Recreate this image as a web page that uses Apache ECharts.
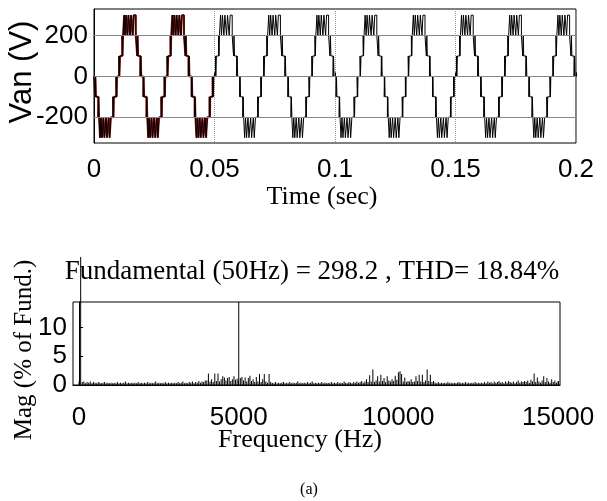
<!DOCTYPE html>
<html><head><meta charset="utf-8">
<script src="https://cdn.jsdelivr.net/npm/echarts@6/dist/echarts.min.js"></script>
<style>html,body{margin:0;padding:0;background:#fff}#c{width:607px;height:501px}</style>
</head><body><div id="c"></div><script>
// ---------- time-domain waveform (7-level inverter) ----------
const cycleStartsSec = [0, 0.02, 0.04, 0.06, 0.08, 0.10, 0.12, 0.14, 0.16, 0.18];
const negHalfEdgeMs = [0, 0.45, 0.6, 0.8, 1.75, 1.9, 2.1, 2.5, 2.9, 3.3, 3.9, 4.3, 5.0, 5.4, 6.1, 6.5, 7.0, 7.9, 8.1, 8.25, 9.2, 9.4, 9.55];
const negHalfLevelV = [0, -100, 0, -100, -200, -100, -200, -300, -200, -300, -200, -300, -200, -300, -200, -300, -200, -100, -200, -100, 0, -100, 0];
const posHalfEdgeMs = [10.0, 10.4, 10.55, 10.8, 11.7, 11.85, 12.05, 12.5, 12.9, 13.3, 13.9, 14.3, 15.0, 15.4, 16.1, 16.5, 17.35, 17.9, 18.1, 18.3, 19.2, 19.4, 19.6];
const posHalfLevelV = [0, 100, 0, 100, 200, 100, 200, 300, 200, 300, 200, 300, 200, 300, 200, 300, 200, 100, 200, 100, 0, 100, 0];
const timeEndSec = 0.2;
const redTraceEndSec = 0.05;
const vTickValues = [-200, 0, 200];

// ---------- harmonic spectrum (% of fundamental), 50 Hz steps ----------
const harmonicStepHz = 50;
const fundamentalHz = 50;
const fundamentalMagPct = 100;
const magBand0to4k = [
  0.6, 0, 0.5, 0.6, 0.3, 0.5, 0.4, 0.6, 0.3, 0.5, 0.4, 0.3, 0.5, 0.4, 0.3, 0.4, 0.5, 0.3, 0.4, 0.3,
  0.4, 0.3, 0.4, 0.3, 0.5, 0.3, 0.4, 0.3, 0.4, 0.6, 0.3, 0.4, 0.3, 0.4, 0.3, 0.4, 0.3, 0.5, 0.3, 0.4,
  0.3, 0.4, 0.3, 0.5, 0.3, 0.4, 0.3, 0.4, 0.6, 0.3, 0.4, 0.3, 0.4, 0.3, 0.5, 0.3, 0.4, 0.3, 0.4, 0.3,
  0.4, 0.3, 0.5, 0.3, 0.4, 0.6, 0.3, 0.4, 0.3, 0.5, 0.4, 0.6, 0.3, 0.5, 0.4, 0.7, 0.4, 0.6, 0.5, 0.8];
const magBand4to6k = [
  0.8, 2.0, 0.6, 1.0, 0.5, 2.0, 0.7, 2.0, 0.6, 1.0, 1.5, 1.3, 0.8, 1.2, 1.4, 0.7, 1.0, 1.5, 0.9, 1.1,
  14.4, 1.2, 1.4, 0.8, 1.3, 0.6, 1.2, 1.6, 0.7, 1.0, 0.5, 1.4, 0.6, 1.9, 0.5, 1.0, 1.9, 0.6, 0.4, 1.9];
const magBand6to9k = [
  0.5, 0.4, 0.3, 0.5, 0.3, 0.4, 0.3, 0.4, 0.5, 0.3, 0.4, 0.3, 0.5, 0.3, 0.4, 0.3, 0.4, 0.6, 0.3, 0.4,
  0.3, 0.4, 0.3, 0.5, 0.3, 0.4, 0.6, 0.3, 0.4, 0.3, 0.4, 0.3, 0.5, 0.3, 0.4, 0.3, 0.4, 0.3, 0.5, 0.3,
  0.4, 0.3, 0.5, 0.3, 0.4, 0.3, 0.6, 0.4, 0.3, 0.5, 0.4, 0.3, 0.5, 0.4, 0.6, 0.4, 0.5, 0.7, 0.4, 0.6];
const magBand9to11k = [
  1.0, 0.5, 1.7, 0.6, 2.7, 0.5, 0.8, 1.5, 0.6, 1.8, 0.7, 1.2, 0.5, 1.5, 0.8, 0.6, 1.0, 0.7, 1.6, 0.9,
  2.2, 2.4, 1.9, 0.6, 1.3, 0.5, 0.7, 0.6, 1.0, 0.5, 0.6, 1.5, 0.7, 1.8, 0.6, 1.8, 0.5, 0.8, 2.7, 0.7];
const magBand11to15k = [
  1.8, 0.5, 0.7, 0.4, 0.3, 0.5, 0.3, 0.4, 0.3, 0.4, 0.3, 0.5, 0.3, 0.4, 0.3, 0.4, 0.3, 0.4, 0.5, 0.3,
  0.4, 0.3, 0.5, 0.3, 0.4, 0.3, 0.4, 0.3, 0.5, 0.3, 0.4, 0.3, 0.4, 0.3, 0.5, 0.3, 0.6, 0.4, 0.5, 0.3,
  0.6, 0.4, 0.5, 0.7, 0.4, 0.5, 0.3, 0.6, 0.4, 0.7, 0.5, 0.4, 0.6, 0.3, 0.5, 0.8, 0.4, 0.6, 0.5, 0.7,
  0.5, 0.8, 0.4, 0.9, 0.6, 2.0, 0.5, 1.3, 0.6, 0.4, 0.8, 1.5, 0.5, 1.2, 0.6, 0.4, 1.0, 0.5, 0.8, 0.4, 0.7];
const freqTickValues = [0, 5000, 10000, 15000];
const magTickValues = [0, 5, 10];

const titleText = 'Fundamental (50Hz) = 298.2 , THD= 18.84%';

// ---------- build ----------
const wave = [];
cycleStartsSec.forEach(c => {
  negHalfEdgeMs.forEach((ms, i) => wave.push([c + ms / 1000, negHalfLevelV[i]]));
  posHalfEdgeMs.forEach((ms, i) => wave.push([c + ms / 1000, posHalfLevelV[i]]));
});
wave.push([timeEndSec, 0]);
const waveRed = wave.filter(p => p[0] <= redTraceEndSec);

const mags = [].concat(magBand0to4k, magBand4to6k, magBand6to9k, magBand9to11k, magBand11to15k);
const spectrum = mags.map((m, k) => [k * harmonicStepHz, m]);

const SANS = '"Liberation Sans", Arial, sans-serif';
const SERIF = '"Liberation Serif", "Times New Roman", serif';
const black = '#000';
const plain = v => String(v);

const chart = echarts.init(document.getElementById('c'), null, {renderer: 'canvas'});
const tickIn = {inside: true, length: 4, lineStyle: {color: black}};
const axLine = {show: true, lineStyle: {color: black, width: 1}};

function txt(x, y, text, font, rot) {
  return {type: 'text', x: x, y: y, rotation: rot || 0, silent: true,
    style: {text: text, font: font, fill: black, textAlign: 'center', align: 'center',
            textVerticalAlign: 'middle', verticalAlign: 'middle'}};
}

chart.setOption({
  animation: false,
  backgroundColor: '#fff',
  grid: [
    {left: 94, top: 9, width: 482, height: 134, show: true, borderColor: black, borderWidth: 1, backgroundColor: 'transparent'},
    {left: 73, top: 302, width: 487, height: 83, show: true, borderColor: black, borderWidth: 1, backgroundColor: 'transparent'},
    {left: 73, top: 257, width: 487, height: 128, show: false}
  ],
  xAxis: [
    {gridIndex: 0, type: 'value', min: 0, max: 0.2, interval: 0.05,
     axisLine: axLine, axisTick: tickIn,
     axisLabel: {color: black, fontFamily: SANS, fontSize: 26, margin: 14, showMinLabel: true, showMaxLabel: true},
     splitLine: {show: true, lineStyle: {color: '#999', type: 'dotted', width: 1}}},
    {gridIndex: 1, type: 'value', min: -190, max: 15060,
     axisLine: axLine,
     axisTick: Object.assign({customValues: freqTickValues}, tickIn),
     axisLabel: {customValues: freqTickValues, formatter: plain, color: black, fontFamily: SANS, fontSize: 26, margin: 20},
     splitLine: {show: false}},
    {gridIndex: 2, type: 'value', min: -190, max: 15060, show: false}
  ],
  yAxis: [
    {gridIndex: 0, type: 'value', min: -326, max: 330,
     axisLine: axLine,
     axisTick: Object.assign({customValues: vTickValues}, tickIn),
     axisLabel: {customValues: vTickValues, formatter: plain, color: black, fontFamily: SANS, fontSize: 26, margin: 6},
     splitLine: {show: false}},
    {gridIndex: 1, type: 'value', min: 0, max: 14.4,
     axisLine: axLine,
     axisTick: Object.assign({customValues: magTickValues}, tickIn),
     axisLabel: {customValues: magTickValues, formatter: plain, color: black, fontFamily: SANS, fontSize: 26, margin: 6},
     splitLine: {show: false}},
    {gridIndex: 2, type: 'value', min: 0, max: fundamentalMagPct, show: false}
  ],
  series: [
    {type: 'line', xAxisIndex: 0, yAxisIndex: 0, data: waveRed, step: 'end', showSymbol: false,
     lineStyle: {color: '#9b1c1c', width: 2}, z: 2, silent: true},
    {type: 'line', xAxisIndex: 0, yAxisIndex: 0, data: wave, step: 'end', showSymbol: false,
     lineStyle: {color: black, width: 1}, z: 3, silent: true,
     markLine: {silent: true, symbol: ['none', 'none'], label: {show: false},
       lineStyle: {color: '#888', type: 'solid', width: 1},
       data: vTickValues.map(v => ({yAxis: v}))}},
    {type: 'bar', xAxisIndex: 1, yAxisIndex: 1, data: spectrum, barWidth: 1,
     itemStyle: {color: black}, silent: true, clip: true},
    {type: 'bar', xAxisIndex: 2, yAxisIndex: 2, data: [[fundamentalHz, fundamentalMagPct]], barWidth: 1,
     itemStyle: {color: black}, silent: true}
  ],
  graphic: [
    txt(322, 197, 'Time (sec)', '26px ' + SERIF),
    txt(22, 72, 'Van (V)', '31px ' + SANS, Math.PI / 2),
    txt(312, 272, titleText, '27px ' + SERIF),
    txt(24, 350, 'Mag (% of Fund.)', '25px ' + SERIF, Math.PI / 2),
    txt(300, 440, 'Frequency (Hz)', '26px ' + SERIF),
    txt(309, 490, '(a)', '16px ' + SERIF)
  ]
});
</script></body></html>
